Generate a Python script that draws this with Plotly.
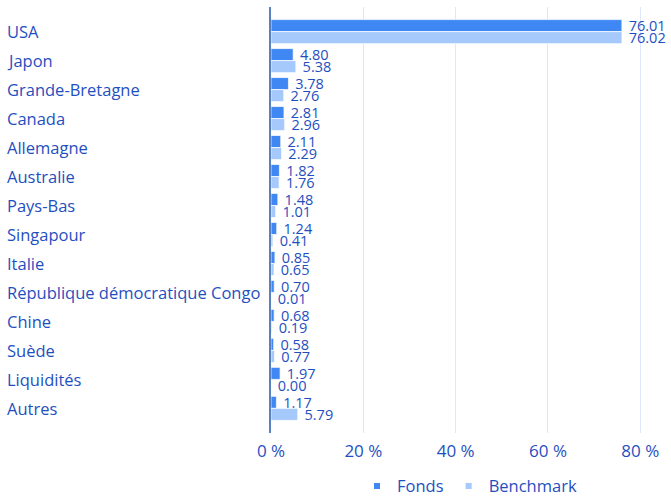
import plotly.graph_objects as go

categories = ["USA", "Japon", "Grande-Bretagne", "Canada", "Allemagne", "Australie",
              "Pays-Bas", "Singapour", "Italie", "République démocratique Congo",
              "Chine", "Suède", "Liquidités", "Autres"]
fonds = [76.01, 4.80, 3.78, 2.81, 2.11, 1.82, 1.48, 1.24, 0.85, 0.70, 0.68, 0.58, 1.97, 1.17]
benchmark = [76.02, 5.38, 2.76, 2.96, 2.29, 1.76, 1.01, 0.41, 0.65, 0.01, 0.19, 0.77, 0.00, 5.79]
x_ticks = [0, 20, 40, 60, 80]
x_tick_text = ["0 %", "20 %", "40 %", "60 %", "80 %"]

FONT = "Open Sans"
TXT = "#1f4fbf"
C_FONDS = "#3f87f2"
C_BENCH = "#a5c9fb"
W, H = 671, 497
ML, MR, MT, MB = 271, 3, 7, 64
pw = W - ML - MR

fig = go.Figure()
for name, vals, col in [("Fonds", fonds, C_FONDS), ("Benchmark", benchmark, C_BENCH)]:
    fig.add_trace(go.Bar(y=categories, x=vals, name=name, orientation="h", showlegend=False,
                         marker=dict(color=col, line=dict(color="rgba(255,255,255,0.7)", width=1)),
                         texttemplate=" %{x:.2f}", textposition="outside", cliponaxis=False,
                         textfont=dict(family=FONT, size=14.5, color=TXT)))
for name, col in [("Fonds", C_FONDS), ("Benchmark", C_BENCH)]:
    fig.add_trace(go.Scatter(x=[None], y=[None], mode="markers", name=name,
                             marker=dict(symbol="square", size=6, color=col)))

for c in categories:
    fig.add_annotation(x=(5 - ML) / pw, xref="paper", y=c, yref="y", text=c,
                       showarrow=False, xanchor="left", yanchor="middle",
                       font=dict(family=FONT, size=16.5, color=TXT))

fig.update_layout(
    width=W, height=H, margin=dict(l=ML, r=MR, t=MT, b=MB, autoexpand=False),
    paper_bgcolor="white", plot_bgcolor="white",
    barmode="group", bargap=0.17, bargroupgap=0,
    uniformtext=dict(mode="show", minsize=14.5),
    font=dict(family=FONT, color=TXT),
    xaxis=dict(range=[0, 86], tickvals=x_ticks, ticktext=x_tick_text, showgrid=True,
               gridcolor="#dde9fa", gridwidth=1, zeroline=False, showline=False,
               tickfont=dict(family=FONT, size=17, color=TXT), ticks="", ticklabelstandoff=6),
    yaxis=dict(range=[13.85, -0.85], showticklabels=False, showgrid=False, zeroline=False,
               showline=True, linecolor="#5b7fc4", linewidth=2, ticks=""),
    legend=dict(orientation="h", x=0.5, xanchor="center", y=-0.125, yanchor="middle",
                font=dict(family=FONT, size=16.5, color=TXT), traceorder="normal",
                itemwidth=30, bgcolor="rgba(0,0,0,0)"),
)

fig.write_html("out.html", config={"displayModeBar": False},
               post_script="document.body.style.margin='0';")
